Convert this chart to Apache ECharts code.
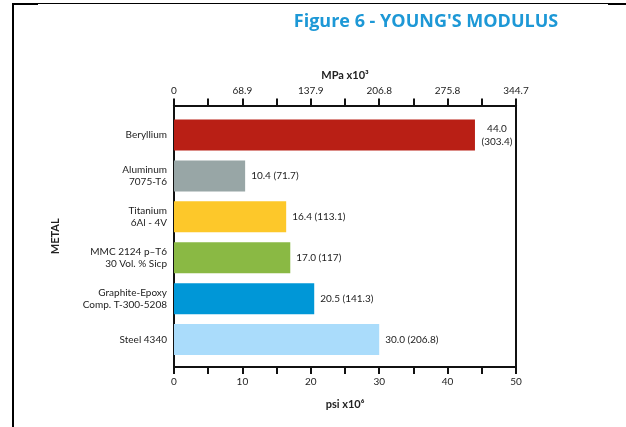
<!DOCTYPE html>
<html>
<head>
<meta charset="utf-8">
<script src="https://cdn.jsdelivr.net/npm/echarts@6/dist/echarts.min.js"></script>
<style>
  html, body { margin: 0; padding: 0; background: #fff; }
  #chart { width: 626px; height: 427px; position: relative; }
  .b { position: absolute; background: #000; }
</style>
</head>
<body>
<div id="chart"></div>
<div class="b" style="left:12px;top:3px;width:2px;height:424px;"></div>
<div class="b" style="left:12px;top:3px;width:26px;height:2px;"></div>
<div class="b" style="left:38px;top:3px;width:570px;height:1px;"></div>
<div class="b" style="left:608px;top:3px;width:18px;height:2px;"></div>
<script>
const metals = ['Beryllium', 'Aluminum\n7075-T6', 'Titanium\n6Al - 4V', 'MMC 2124 p–T6\n30 Vol. % Sicp', 'Graphite-Epoxy\nComp. T-300-5208', 'Steel 4340'];
const psiValues = [44.0, 10.4, 16.4, 17.0, 20.5, 30.0];
const mpaValues = ['303.4', '71.7', '113.1', '117', '141.3', '206.8'];
const barColors = ['#b91f15', '#98a6a6', '#fdc82a', '#8ab944', '#0097d7', '#aadcfb'];
const psiTicks = ['0', '10', '20', '30', '40', '50'];
const mpaTicks = ['0', '68.9', '137.9', '206.8', '275.8', '344.7'];

const FONT = 'Lato';
const TXT = '#222';
const chart = echarts.init(document.getElementById('chart'));
const axisLineStyle = { color: '#111', width: 2 };

chart.setOption({
  animation: false,
  textStyle: { fontFamily: FONT, color: TXT },
  title: {
    text: "Figure 6 - YOUNG'S MODULUS",
    left: 421, top: 8, textAlign: 'center',
    textStyle: { fontFamily: 'Open Sans', fontWeight: 'bold', fontSize: 18, color: '#1d98d6' }
  },
  grid: [
    { left: 174, right: 110, top: 105.5, bottom: 60 },
    { left: 174, right: 110, top: 114.5, height: 245.5 }
  ],
  xAxis: [
    {
      gridIndex: 0, type: 'value', position: 'top', min: 0, max: 50, interval: 5,
      name: 'MPa x10³', nameLocation: 'middle', nameGap: 23,
      nameTextStyle: { fontWeight: 'bold', fontSize: 11, color: TXT, fontFamily: FONT },
      axisLine: { show: true, onZero: false, lineStyle: axisLineStyle },
      axisTick: { show: true, length: 7, lineStyle: axisLineStyle },
      axisLabel: { margin: 10, fontSize: 10, color: TXT, formatter: v => (v % 10 === 0 ? mpaTicks[v / 10] : '') },
      splitLine: { show: false }
    },
    {
      gridIndex: 0, type: 'value', position: 'bottom', min: 0, max: 50, interval: 5,
      name: 'psi x10⁶', nameLocation: 'middle', nameGap: 32,
      nameTextStyle: { fontWeight: 'bold', fontSize: 11, color: TXT, fontFamily: FONT },
      axisLine: { show: true, onZero: false, lineStyle: axisLineStyle },
      axisTick: { show: true, length: 7, lineStyle: axisLineStyle },
      axisLabel: { margin: 10, fontSize: 10, color: TXT, formatter: v => (v % 10 === 0 ? psiTicks[v / 10] : '') },
      splitLine: { show: false }
    },
    { gridIndex: 1, type: 'value', min: 0, max: 50, show: false }
  ],
  yAxis: [
    {
      gridIndex: 0, type: 'value', position: 'left', min: 0, max: 1,
      name: 'METAL', nameLocation: 'middle', nameRotate: 90, nameGap: 113,
      nameTextStyle: { fontWeight: 'bold', fontSize: 11, color: TXT, fontFamily: FONT },
      axisLine: { show: true, onZero: false, lineStyle: axisLineStyle },
      axisTick: { show: false }, axisLabel: { show: false }, splitLine: { show: false }
    },
    {
      gridIndex: 0, type: 'value', position: 'right', min: 0, max: 1,
      axisLine: { show: true, onZero: false, lineStyle: axisLineStyle },
      axisTick: { show: false }, axisLabel: { show: false }, splitLine: { show: false }
    },
    {
      gridIndex: 1, type: 'category', data: metals, inverse: true,
      axisLine: { show: false, onZero: false }, axisTick: { show: false },
      axisLabel: { margin: 7, fontSize: 10, color: TXT, lineHeight: 12, align: 'right' }
    }
  ],
  series: [{
    type: 'bar',
    xAxisIndex: 2, yAxisIndex: 2,
    barWidth: 31,
    data: psiValues.map((v, i) => ({
      value: v,
      itemStyle: { color: barColors[i] },
      label: i === 0
        ? { formatter: '{c|' + v.toFixed(1) + '}\n{c|(' + mpaValues[i] + ')}', distance: 2 }
        : { formatter: v.toFixed(1) + ' (' + mpaValues[i] + ')' }
    })),
    label: {
      show: true, position: 'right', distance: 6, fontSize: 10, color: TXT, fontFamily: FONT,
      rich: { c: { width: 40, align: 'center', fontSize: 10, color: TXT, fontFamily: FONT, lineHeight: 13 } }
    }
  }]
});
</script>
</body>
</html>
